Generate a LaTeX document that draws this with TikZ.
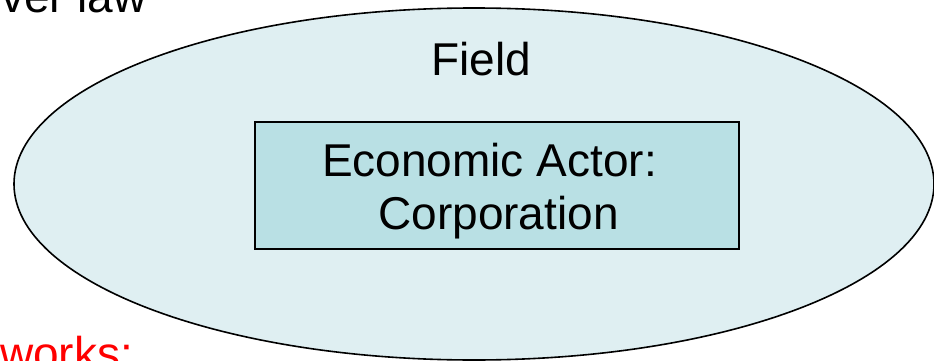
\documentclass[tikz,border=0pt]{standalone}
\usepackage{fontspec}
\setmainfont{Liberation Sans}
\usepackage{tikz}
\usetikzlibrary{shapes.geometric,positioning}
\definecolor{fieldfill}{RGB}{223,239,242}
\definecolor{actorfill}{RGB}{185,224,228}
\begin{document}
\begin{tikzpicture}[x=1pt,y=-1pt,every node/.style={inner sep=0,font=\fontsize{46}{53}\selectfont}]

\useasboundingbox (0,0) rectangle (934,361);
\clip (0,0) rectangle (934,361);

\node (field) [ellipse, draw, line width=1.6pt, fill=fieldfill, minimum width=920pt, minimum height=352pt] at (474,184) {};
\node (fieldlabel) [anchor=base] at (481,76) {Field};

\node (actor) [rectangle, draw, line width=2pt, fill=actorfill, minimum width=484pt, minimum height=127pt] at (497,185.5) {};
\node (actortop) [anchor=base] at (489.5,176) {Economic Actor:};
\node (actorbottom) [anchor=base] at (498.5,229) {Corporation};

\node (toptext) [anchor=base east] at (147,13) {ver law};
\node (bottomtext) [anchor=base west, text=red] at (0,369) {works:};

\end{tikzpicture}
\end{document}
